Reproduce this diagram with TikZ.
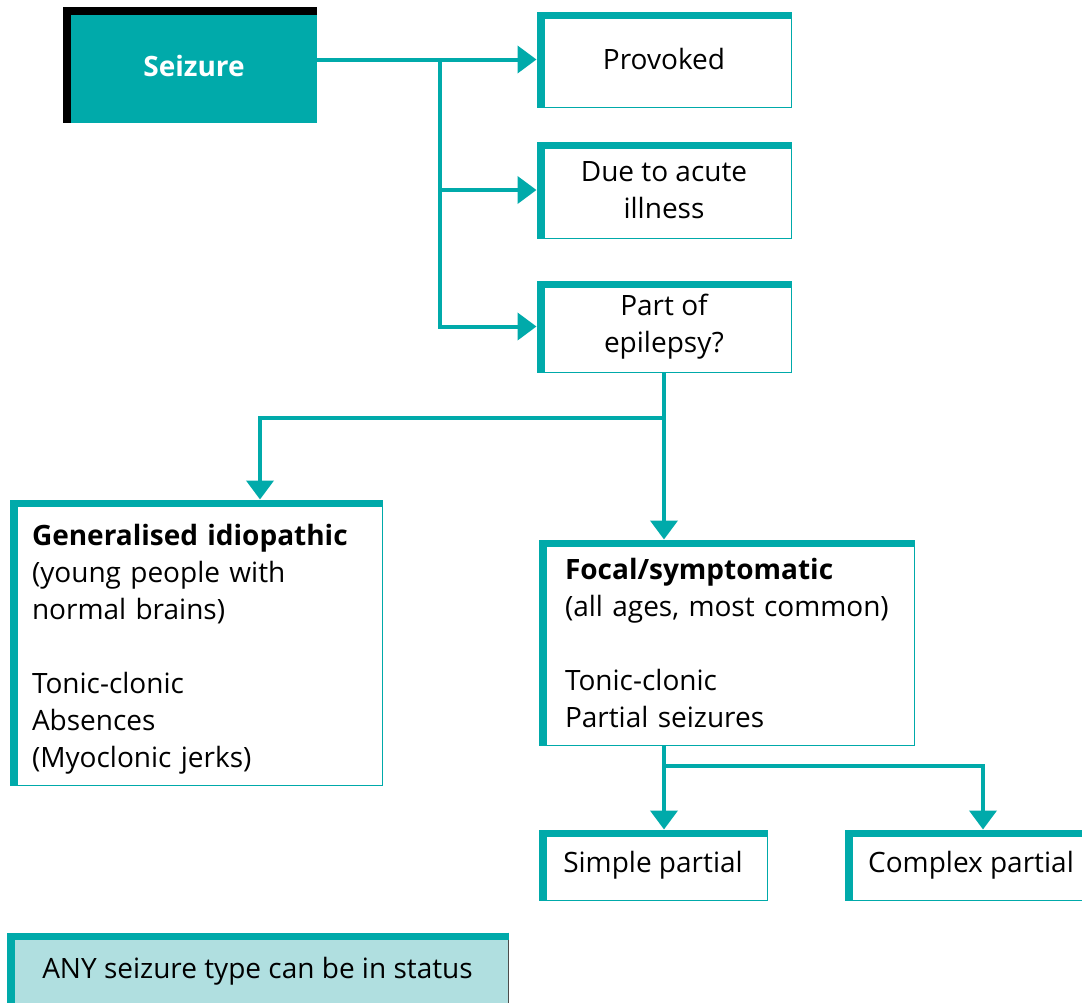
\documentclass[tikz,border=0pt]{standalone}
\usepackage{fontspec}
\setmainfont{Open Sans}
\usetikzlibrary{arrows.meta,calc}
\definecolor{teal1}{RGB}{0,170,170}
\definecolor{lteal}{RGB}{176,223,224}
\begin{document}
\begin{tikzpicture}[x=1pt,y=-1pt,
 box/.style={draw=teal1, line width=1pt, fill=white, inner sep=0pt, font=\fontsize{28}{37}\selectfont, align=center},
 arr/.style={draw=teal1, line width=4pt, -{Triangle[length=19pt,width=27pt]}},
 ln/.style={draw=teal1, line width=4pt}]
\clip (0,0) rectangle (1082,1002);
\fill[white] (0,0) rectangle (1082,1002);

% Seizure
\fill[black] (63,7) rectangle (317,123);
\node[fill=teal1, inner sep=0pt, minimum width=246pt, minimum height=108pt, text=white, font=\fontsize{28}{37}\selectfont\bfseries] (seizure) at (194,69) {\raisebox{7pt}{Seizure}};

\node[box, minimum width=254pt, minimum height=95pt] (prov) at (664,59.5) {\raisebox{2pt}{Provoked}};
\node[box, minimum width=254pt, minimum height=96pt] (acute) at (664,190) {Due to acute\\illness};
\node[box, minimum width=254pt, minimum height=91pt] (epi) at (664,326.5) {Part of\\epilepsy?};

\node[box, minimum width=372pt, minimum height=285pt, text width=328pt, inner xsep=22pt, align=left, text height=35pt] (gen) at (196,642.5)
 {\mbox{\bfseries Generalised idiopathic}\\(young people with\\normal brains)\\[37pt]Tonic-clonic\\Absences\\(Myoclonic jerks)};
\node[box, minimum width=375pt, minimum height=205pt, text width=323pt, inner xsep=26pt, align=left] (focal) at (726.5,642.5)
 {\mbox{\bfseries Focal/symptomatic}\\\mbox{(all ages, most common)}\\[37pt]Tonic-clonic\\Partial seizures};

\node[box, minimum width=228pt, minimum height=70pt] (simple) at (653,865) {Simple partial};
\node[box, minimum width=252pt, minimum height=70pt] (complex) at (971,865) {Complex partial};

\node[box, draw=none, fill=lteal, minimum width=501pt, minimum height=77pt] (status) at (257.5,971.5) {ANY seizure type can be in status};
\draw[gray!60!black, line width=1pt] (status.north east) -- (status.south east);

% connectors
\coordinate (j1) at (440,59.5);
\draw[arr] (seizure.east |- prov.west) -- (prov.west);
\draw[arr] (j1) |- (acute.west);
\draw[arr] (j1) |- (epi.west);

\coordinate (j2) at (664,418);
\draw[ln] (epi.south) -- (j2);
\draw[arr] (j2) -- (j2 |- focal.north);
\draw[arr] (j2) -| ([xshift=64pt]gen.north);

\coordinate (j3) at (664,766);
\draw[ln] (j2 |- focal.south) -- (j3);
\draw[arr] (j3) -- (j3 |- simple.north);
\draw[arr] (j3) -| ([xshift=12pt]complex.north);

% thick left/top bands
\foreach \n in {prov,acute,epi,gen,focal,simple,complex,status}{
  \fill[teal1] (\n.north west) rectangle ([xshift=8pt]\n.south west);
  \fill[teal1] (\n.north west) rectangle ([yshift=-7pt]\n.north east);
}
\end{tikzpicture}
\end{document}
